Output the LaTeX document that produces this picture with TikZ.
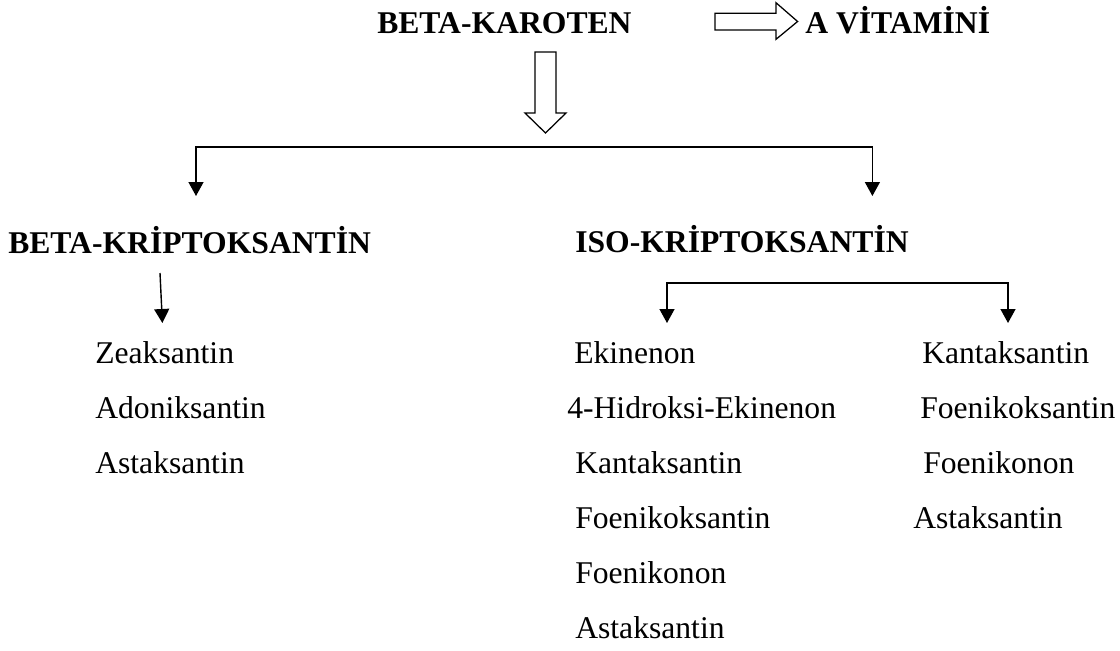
\documentclass[tikz,border=0pt]{standalone}
\usepackage{fontspec}
\setmainfont{Liberation Serif}
\usetikzlibrary{arrows.meta}
\tikzset{
	txt/.style={anchor=base west, inner sep=0pt, font=\fontsize{22.5}{27}\selectfont},
	titel/.style={txt, font=\fontsize{22.5}{27}\selectfont\bfseries},
	pfeil/.style={line width=1pt, -{Triangle[width=0.375cm,length=0.35cm]}},
	hohlpfeil/.style={draw, line width=0.9pt, line join=miter}
}
\begin{document}
\begin{tikzpicture}
		\useasboundingbox (0,0) rectangle (28,-16.25);
		
		\node[titel] at (9.425,-0.825) (karoten) {BETA-KAROTEN};
		\node[titel] at (20.125,-0.825) (vitamin) {A VİTAMİNİ};
		\node[titel] at (0.2,-6.325) (betakrip) {BETA-KRİPTOKSANTİN};
		\node[titel] at (14.375,-6.3) (isokrip) {ISO-KRİPTOKSANTİN};
		
		\draw[hohlpfeil] (17.875,-0.333) -- (19.4,-0.333) -- (19.4,-0.068) -- (19.94,-0.5375) -- (19.4,-0.983) -- (19.4,-0.75) -- (17.875,-0.75) -- cycle;
		\draw[hohlpfeil] (13.375,-1.3) -- (13.9,-1.3) -- (13.9,-2.825) -- (14.15,-2.825) -- (13.6375,-3.325) -- (13.125,-2.825) -- (13.375,-2.825) -- cycle;
		
		\node[txt] at (2.375,-9.075) (zea) {Zeaksantin};
		\node[txt] at (2.375,-10.45) (ado) {Adoniksantin};
		\node[txt] at (2.375,-11.825) (asta1) {Astaksantin};
		
		\node[txt] at (14.35,-9.075) (eki) {Ekinenon};
		\node[txt] at (14.175,-10.45) (hideki) {4-Hidroksi-Ekinenon};
		\node[txt] at (14.375,-11.825) (kanta1) {Kantaksantin};
		\node[txt] at (14.375,-13.2) (foeks1) {Foenikoksantin};
		\node[txt] at (14.375,-14.575) (foeno1) {Foenikonon};
		\node[txt] at (14.375,-15.95) (asta2) {Astaksantin};
		
		\node[txt] at (23.05,-9.075) (kanta2) {Kantaksantin};
		\node[txt] at (23.0,-10.45) (foeks2) {Foenikoksantin};
		\node[txt] at (23.075,-11.825) (foeno2) {Foenikonon};
		\node[txt] at (22.825,-13.2) (asta3) {Astaksantin};
		
		\coordinate (gabel1) at (13.6375,-3.675);
		\coordinate (ende1) at (4.9,-4.9);
		\coordinate (ende2) at (21.81,-4.9);
		\coordinate (start3) at (4.0,-6.825);
		\coordinate (ende3) at (4.06,-8.075);
		\coordinate (gabel2) at (20.94,-7.075);
		\coordinate (ende4) at (16.675,-8.075);
		\coordinate (ende5) at (25.2,-8.075);
		
		\draw[pfeil] (gabel1) -| (ende1);
		\draw[pfeil] (gabel1) -| (ende2);
		\draw[pfeil] (start3) -- (ende3);
		\draw[pfeil] (gabel2) -| (ende4);
		\draw[pfeil] (gabel2) -| (ende5);
\end{tikzpicture}
\end{document}
